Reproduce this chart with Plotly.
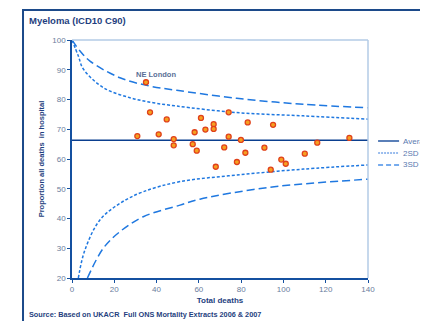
import plotly.graph_objects as go

# ---- data ----
deaths = [35.0, 36.9, 44.8, 30.9, 41.0, 48.1, 48.1, 57.1, 59.0, 58.0,
          61.0, 63.1, 67.0, 67.0, 74.1, 74.1, 72.0, 79.9, 83.1, 82.0,
          68.0, 78.0, 95.1, 91.0, 110.1, 116.0, 131.2, 99.0, 101.1, 94.0]
prop_hosp = [85.8, 75.7, 73.3, 67.7, 68.3, 66.7, 64.6, 65.0, 62.8, 69.0,
             73.8, 69.9, 71.7, 70.1, 75.7, 67.5, 63.9, 66.4, 72.3, 62.1,
             57.4, 59.0, 71.5, 63.8, 61.8, 65.5, 67.1, 59.8, 58.4, 56.4]

average_x = [0, 140]
average_y = [66.3, 66.3]

up3_x = [0, 3.8, 8.5, 22.7, 36.9, 49.5, 77.9, 109.4, 140]
up3_y = [100, 96.3, 92.9, 87.3, 84.5, 83.1, 80.4, 78.4, 77.2]
up2_x = [0, 3.0, 5.4, 14.8, 27.4, 38.5, 49.5, 77.9, 109.4, 140]
up2_y = [100, 94.6, 90.2, 84.0, 80.6, 78.9, 77.8, 75.6, 74.5, 73.4]
lo2_x = [3.0, 6.1, 13.2, 22.7, 33.7, 51.1, 77.9, 109.4, 140]
lo2_y = [20.0, 29.4, 39.5, 45.1, 49.0, 52.4, 54.6, 56.6, 58.0]
lo3_x = [7.3, 14.8, 22.7, 33.7, 51.1, 60.5, 93.6, 140]
lo3_y = [20.0, 30.0, 35.6, 40.6, 44.5, 46.5, 50.5, 53.2]

x_ticks = [0, 20, 40, 60, 80, 100, 120, 140]
y_ticks = [20, 30, 40, 50, 60, 70, 80, 90, 100]

legend_names = ["Average", "2SD limits", "3SD limits"]

label_x, label_y, label_text = 39.5, 88.3, "NE London"

FONT = "Liberation Sans, Arial, sans-serif"
CURVE = "#1f78e0"
AVG = "#0b3f8f"
TICKC = "#6a7d9c"
TITLEC = "#1f3f80"
DASH2 = "3px,2px"
DASH3 = "8px,4px"

fig = go.Figure()
fig.add_trace(go.Scatter(x=average_x, y=average_y, mode="lines", name=legend_names[0],
                         line=dict(color=AVG, width=1.5)))
fig.add_trace(go.Scatter(x=up2_x, y=up2_y, mode="lines", name=legend_names[1],
                         line=dict(color=CURVE, width=1.5, dash=DASH2, shape="spline")))
fig.add_trace(go.Scatter(x=lo2_x, y=lo2_y, mode="lines", name=legend_names[1],
                         line=dict(color=CURVE, width=1.5, dash=DASH2, shape="spline")))
fig.add_trace(go.Scatter(x=up3_x, y=up3_y, mode="lines", name=legend_names[2],
                         line=dict(color=CURVE, width=1.5, dash=DASH3, shape="spline")))
fig.add_trace(go.Scatter(x=lo3_x, y=lo3_y, mode="lines", name=legend_names[2],
                         line=dict(color=CURVE, width=1.5, dash=DASH3, shape="spline")))
fig.add_trace(go.Scatter(x=deaths, y=prop_hosp, mode="markers", name="Areas",
                         marker=dict(size=5, color="#f5a020",
                                     line=dict(color="#e0401a", width=1.3))))

fig.add_annotation(x=label_x, y=label_y, text="<b>" + label_text + "</b>", showarrow=False,
                   font=dict(family=FONT, size=7.5, color="#5a6f96"))

# manual legend (the reference legend runs off the right edge)
leg_y = [0.5756, 0.525, 0.4748]
leg_style = [dict(color="#5a7fb8", width=2), dict(color="#7aa8e8", width=1.5, dash="2px,1px"),
             dict(color="#4a90e8", width=1.5, dash="5px,3px")]
for name, yy, st in zip(legend_names, leg_y, leg_style):
    fig.add_shape(type="line", xref="paper", yref="paper", x0=1.034, x1=1.105, y0=yy, y1=yy,
                  line=st)
    fig.add_annotation(xref="paper", yref="paper", x=1.112, y=yy, xanchor="left", yanchor="middle",
                       text=name, showarrow=False,
                       font=dict(family=FONT, size=8, color="#5a7ab0"))

# outer frame
fig.add_shape(type="rect", xref="paper", yref="paper",
              x0=-0.1655, x1=1.3, y0=-0.25, y1=1.126,
              line=dict(color="#1c4a8a", width=2), layer="below")
# top / right plot border (light)
fig.add_shape(type="line", xref="paper", yref="paper", x0=0, x1=1, y0=1, y1=1,
              line=dict(color="#b3cbe6", width=1.5))
fig.add_shape(type="line", xref="paper", yref="paper", x0=1, x1=1, y0=0, y1=1,
              line=dict(color="#b3cbe6", width=1.5))

fig.add_annotation(xref="paper", yref="paper", x=-0.152, y=1.084, xanchor="left", yanchor="middle",
                   text="<b>Myeloma (ICD10 C90)</b>", showarrow=False,
                   font=dict(family=FONT, size=9.5, color=TITLEC))
fig.add_annotation(xref="paper", yref="paper", x=-0.152, y=-0.153, xanchor="left", yanchor="middle",
                   text="<b>Source: Based on UKACR  Full ONS Mortality Extracts 2006 &amp; 2007</b>",
                   showarrow=False, font=dict(family=FONT, size=7.3, color=TITLEC))

# the page body adds an 8px offset; margins are shifted to compensate
fig.update_layout(
    width=428, height=321,
    margin=dict(l=64, r=68, t=32, b=51),
    paper_bgcolor="white", plot_bgcolor="white",
    font=dict(family=FONT, size=8, color=TICKC),
    showlegend=False,
    xaxis=dict(range=[0, 140], tickvals=x_ticks, showgrid=False, zeroline=False,
               showline=True, linecolor="#1450a0", linewidth=1.5,
               ticks="outside", ticklen=3, tickcolor="#1450a0",
               tickfont=dict(family=FONT, size=8, color=TICKC),
               title=dict(text="<b>Total deaths</b>", standoff=4,
                          font=dict(family=FONT, size=8, color=TITLEC))),
    yaxis=dict(range=[20, 100], tickvals=y_ticks, showgrid=False, zeroline=False,
               showline=True, linecolor="#1450a0", linewidth=1.5,
               ticks="outside", ticklen=3, tickcolor="#1450a0",
               tickfont=dict(family=FONT, size=8, color=TICKC),
               title=dict(text="<b>Proportion all deaths  in hospital</b>", standoff=7,
                          font=dict(family=FONT, size=7.5, color=TITLEC))),
)

fig.write_html("out.html")
